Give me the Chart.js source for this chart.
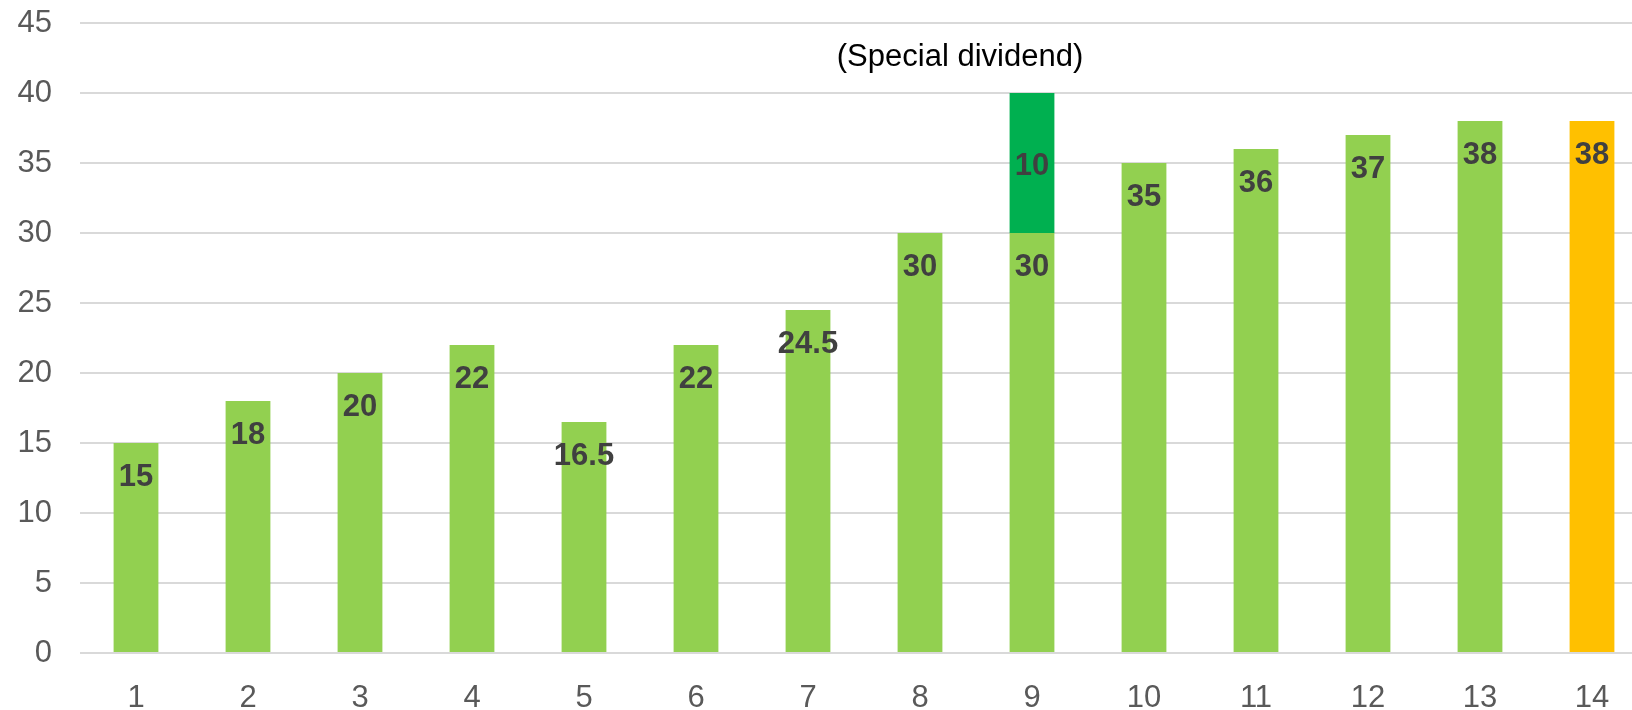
<!DOCTYPE html>
<html>
<head>
<meta charset="utf-8">
<script src="https://cdn.jsdelivr.net/npm/chart.js"></script>
<style>
    body { margin: 0; background: #ffffff; }
    #wrap { width: 1632px; height: 710px; overflow: hidden; }
</style>
</head>
<body>
<div id="wrap">
    <canvas id="dividendChart" width="1648" height="710"></canvas>
</div>
<script>
// Jahre (Achse) und Dividende pro Aktie
const labels = ['1', '2', '3', '4', '5', '6', '7', '8', '9', '10', '11', '12', '13', '14'];
const ordinaryDividend = [15, 18, 20, 22, 16.5, 22, 24.5, 30, 30, 35, 36, 37, 38, 38];
const specialDividend = [null, null, null, null, null, null, null, null, 10, null, null, null, null, null];
const yTicks = [0, 5, 10, 15, 20, 25, 30, 35, 40, 45];
const specialNote = '(Special dividend)';

// Farben: letztes Jahr (Prognose) in Orange
const barColors = ordinaryDividend.map((v, i) => i === ordinaryDividend.length - 1 ? '#ffc000' : '#92d050');

const labelFont = '"Liberation Sans", Arial, sans-serif';

// Werte auf die Balken schreiben (kein Datalabels-Plugin verfuegbar)
const valueLabels = {
    id: 'valueLabels',
    afterDatasetsDraw(chart) {
        const ctx = chart.ctx;
        ctx.save();
        ctx.font = 'bold 31px ' + labelFont;
        ctx.fillStyle = '#404040';
        ctx.textAlign = 'center';
        ctx.textBaseline = 'middle';
        chart.data.datasets.forEach((ds, i) => {
            const meta = chart.getDatasetMeta(i);
            meta.data.forEach((bar, j) => {
                const v = ds.data[j];
                if (v === null || v === undefined) return;
                // Sonderdividende mittig, sonst oben im Balken
                const y = ds.labelCenter ? (bar.y + bar.base) / 2 + 3 : bar.y + 34;
                ctx.fillText(String(v), bar.x, y);
            });
        });

        // Hinweis ueber dem Balken mit Sonderdividende
        const x = chart.scales.x.getPixelForValue(8) - 72;
        const yTop = chart.scales.y.getPixelForValue(40) - 27;
        ctx.font = '31px ' + labelFont;
        ctx.fillStyle = '#000000';
        ctx.textBaseline = 'alphabetic';
        ctx.fillText(specialNote, x, yTop);
        ctx.restore();
    }
};

const ctx = document.getElementById('dividendChart').getContext('2d');
const dividendChart = new Chart(ctx, {
    type: 'bar',
    data: {
        labels: labels,
        datasets: [{
            label: 'Dividende',
            data: ordinaryDividend,
            backgroundColor: barColors,
            barPercentage: 0.4,
            categoryPercentage: 1
        }, {
            label: 'Sonderdividende',
            data: specialDividend,
            backgroundColor: '#00b050',
            barPercentage: 0.4,
            categoryPercentage: 1,
            labelCenter: true
        }]
    },
    options: {
        responsive: false,
        animation: false,
        events: [],
        layout: { padding: { top: 23, left: 0, right: 0, bottom: 0 } },
        plugins: {
            legend: { display: false },
            tooltip: { enabled: false },
            title: { display: false }
        },
        scales: {
            x: {
                stacked: true,
                grid: { display: false, drawTicks: false },
                border: { display: false },
                ticks: {
                    color: '#595959',
                    font: { family: labelFont, size: 31 },
                    padding: 27,
                    maxRotation: 0
                },
                afterFit(scale) {
                    scale.height = 57;
                    scale.paddingLeft = 0;
                    scale.paddingRight = 0;
                }
            },
            y: {
                stacked: true,
                min: 0,
                max: 45,
                afterBuildTicks(scale) { scale.ticks = yTicks.map(v => ({ value: v })); },
                grid: { color: '#d9d9d9', lineWidth: 2, drawTicks: false },
                border: { display: false },
                ticks: {
                    color: '#595959',
                    font: { family: labelFont, size: 31 },
                    padding: 28
                },
                afterFit(scale) {
                    scale.width = 80;
                    scale.paddingTop = 0;
                    scale.paddingBottom = 0;
                }
            }
        }
    },
    plugins: [valueLabels]
});
</script>
</body>
</html>
